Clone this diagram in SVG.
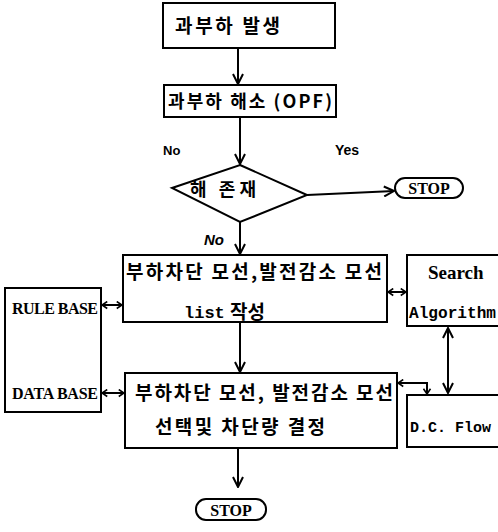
<svg xmlns="http://www.w3.org/2000/svg" width="498" height="532" viewBox="0 0 498 532">
<style>
.box{fill:#fff;stroke:#000;stroke-width:2}
.ln{fill:none;stroke:#000;stroke-width:2}
.kr{font-family:"Noto Sans CJK KR",sans-serif;font-weight:bold;fill:#000}
.sf{font-family:"Liberation Serif",serif;font-weight:bold;fill:#000}
.mn{font-family:"Liberation Mono",monospace;font-weight:bold;fill:#000}
.sn{font-family:"Liberation Sans",sans-serif;font-weight:bold;fill:#000}
</style>
<defs>
<marker id="ah" viewBox="0 0 12 12" refX="11" refY="6" markerWidth="12" markerHeight="12" markerUnits="userSpaceOnUse" orient="auto-start-reverse">
<path d="M1,1 L11,6 L1,11" fill="none" stroke="#000" stroke-width="2"/>
</marker>
<marker id="sh" viewBox="0 0 8 10" refX="7" refY="5" markerWidth="7" markerHeight="9" markerUnits="userSpaceOnUse" orient="auto-start-reverse">
<path d="M1,1 L7,5 L1,9" fill="none" stroke="#000" stroke-width="1.8"/>
</marker>
</defs>
<rect width="498" height="532" fill="#fff"/>
<g id="connectors">
<line class="ln" x1="238" y1="48" x2="238" y2="84" marker-end="url(#ah)"/>
<line class="ln" x1="240" y1="117" x2="240" y2="164" marker-end="url(#ah)"/>
<line class="ln" x1="307" y1="195" x2="394" y2="191" marker-end="url(#ah)"/>
<line class="ln" x1="240" y1="222" x2="240" y2="254" marker-end="url(#ah)"/>
<line class="ln" x1="240" y1="322" x2="240" y2="372" marker-end="url(#ah)"/>
<line class="ln" x1="238" y1="448" x2="238" y2="487" marker-end="url(#ah)"/>
<line class="ln" x1="388" y1="292" x2="406" y2="292" marker-start="url(#sh)" marker-end="url(#sh)"/>
<line class="ln" x1="102" y1="305" x2="122" y2="305" marker-start="url(#sh)" marker-end="url(#sh)"/>
<line class="ln" x1="102" y1="393" x2="124" y2="393" marker-start="url(#sh)" marker-end="url(#sh)"/>
<line class="ln" x1="448" y1="328" x2="448" y2="393" marker-start="url(#ah)" marker-end="url(#ah)"/>
<polyline class="ln" points="398,383 427,383 427,394" marker-start="url(#sh)" marker-end="url(#sh)"/>
<text class="sn" x="163" y="155" style="font-size:13px">No</text>
<text class="sn" x="335" y="155" style="font-size:14px">Yes</text>
<text class="sn" x="204" y="245" style="font-size:15px;font-style:italic">No</text>
</g>
<g id="n1">
<rect class="box" x="163" y="3" width="172" height="45"/>
<text class="kr" x="175" y="33" style="font-size:19px" textLength="105">과부하 발생</text>
</g>
<g id="n2">
<rect class="box" x="164" y="85" width="172" height="32"/>
<text class="kr" x="168" y="108" style="font-size:18px" textLength="164">과부하 해소 (OPF)</text>
</g>
<g id="n3">
<polygon class="box" points="240,165 307,195 240,222 172,188"/>
<text class="kr" x="190" y="196" style="font-size:18px" textLength="66">해 존재</text>
</g>
<g id="stop1">
<rect class="box" x="395" y="178" width="68" height="20" rx="10"/>
<text class="sf" x="429" y="194" text-anchor="middle" style="font-size:16px">STOP</text>
</g>
<g id="n4">
<rect class="box" x="123" y="255" width="264" height="67"/>
<text class="kr" x="126" y="279" style="font-size:19px" textLength="256">부하차단 모선,발전감소 모선</text>
<text class="mn" x="184" y="318" style="font-size:17px">list</text>
<text class="kr" x="230" y="319" style="font-size:19px">작성</text>
</g>
<g id="search">
<rect class="box" x="407" y="255" width="100" height="71"/>
<text class="sf" x="428" y="279" style="font-size:19px">Search</text>
<text class="mn" x="409" y="318" style="font-size:16px" textLength="87" lengthAdjust="spacingAndGlyphs">Algorithm</text>
</g>
<g id="db">
<rect class="box" x="5" y="288" width="96" height="124"/>
<text class="sf" x="12" y="314" style="font-size:16px" textLength="86">RULE BASE</text>
<text class="sf" x="12" y="399" style="font-size:16px" textLength="86">DATA BASE</text>
</g>
<g id="n5">
<rect class="box" x="125" y="373" width="272" height="75"/>
<text class="kr" x="135" y="400" style="font-size:19px" textLength="258">부하차단 모선, 발전감소 모선</text>
<text class="kr" x="155" y="434" style="font-size:19px" textLength="170">선택및 차단량 결정</text>
</g>
<g id="dcflow">
<rect class="box" x="407" y="395" width="100" height="52"/>
<text class="mn" x="410" y="432" style="font-size:15px">D.C. Flow</text>
</g>
<g id="stop2">
<rect class="box" x="196" y="499" width="70" height="21" rx="10"/>
<text class="sf" x="231" y="516" text-anchor="middle" style="font-size:16px">STOP</text>
</g>
</svg>
